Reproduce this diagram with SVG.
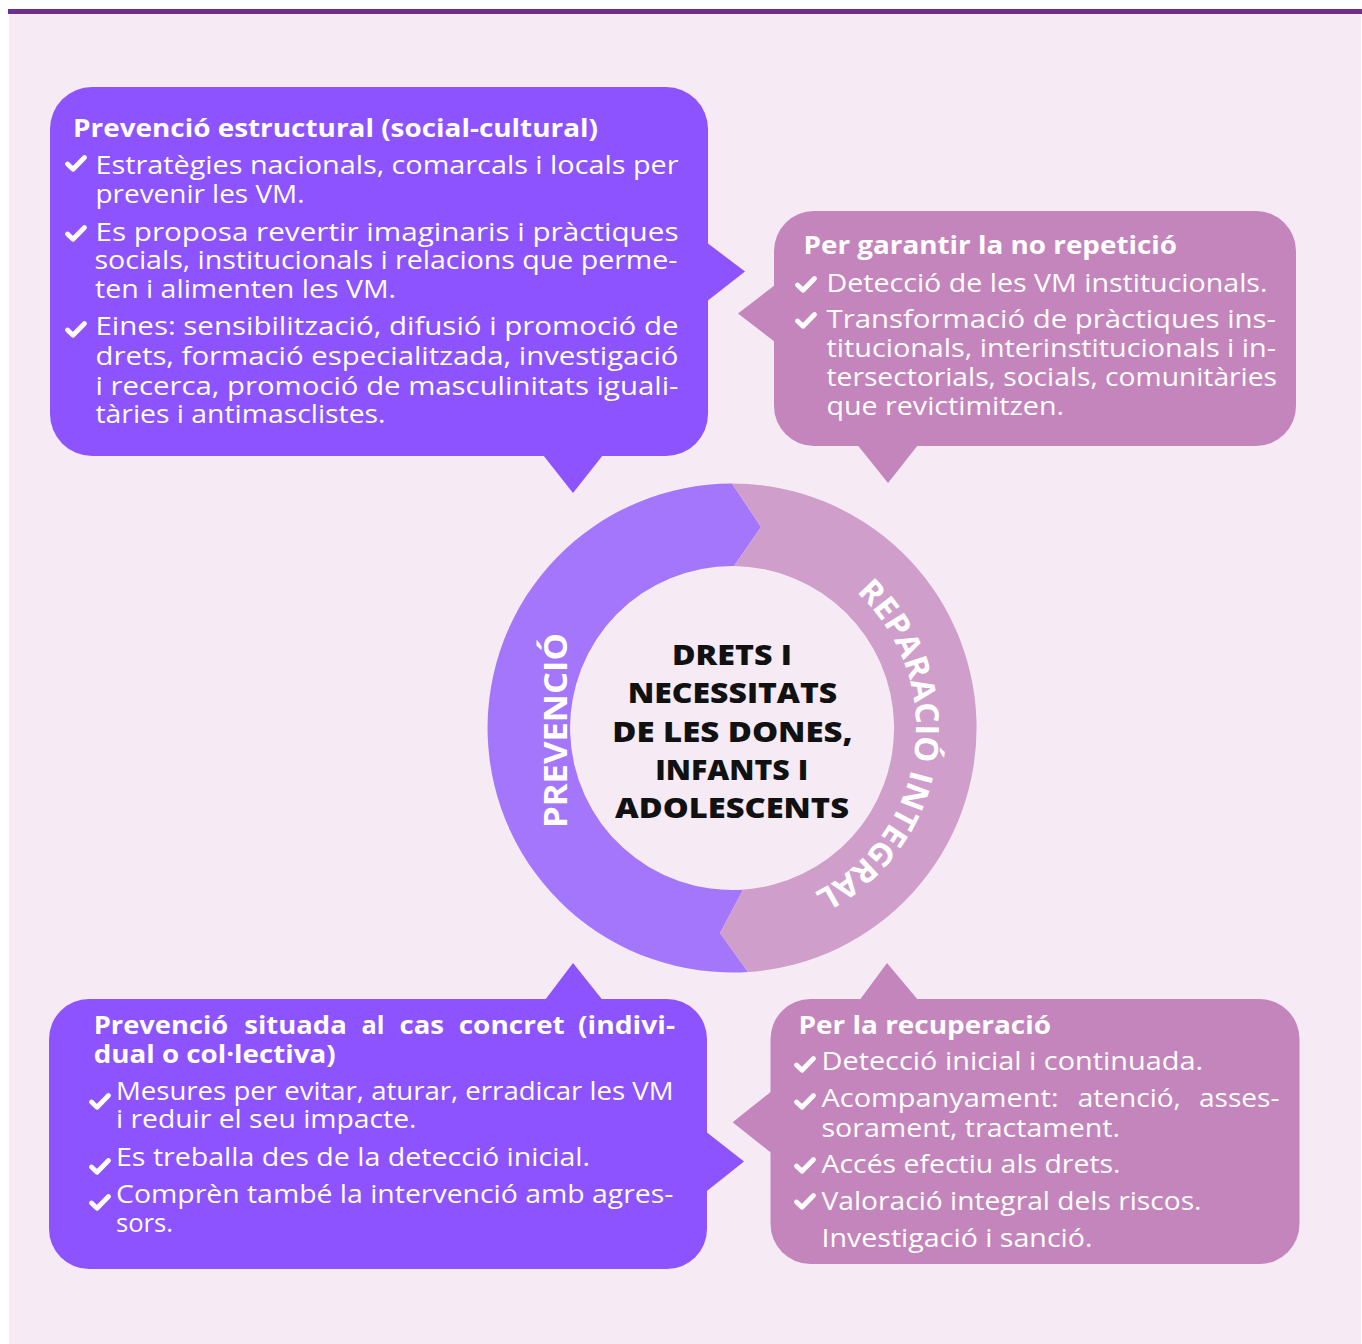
<svg xmlns="http://www.w3.org/2000/svg" xmlns:xlink="http://www.w3.org/1999/xlink" width="1362" height="1344" viewBox="0 0 1362 1344">
<style>
.tx{font-family:"Open Sans","Noto Sans","Liberation Sans",sans-serif;fill:#ffffff;font-size:25px;}
.bd{font-weight:700;}
.ct{font-family:"Open Sans","Noto Sans","Liberation Sans",sans-serif;font-weight:800;font-size:28px;fill:#111111;text-anchor:middle;}
.rt{font-family:"Open Sans","Noto Sans","Liberation Sans",sans-serif;font-weight:700;font-size:32px;fill:#ffffff;}
.vio{fill:#8c53fe;}
.mau{fill:#c485bd;}
</style>
<defs>
<path id="chk" d="M2.5,9 L8,14.2 L19.5,2.5" fill="none" stroke="#ffffff" stroke-width="4.8" stroke-linecap="round" stroke-linejoin="round"/>
<path id="arc" d="M856.3,592.3 A184,184 0 0 1 814.1,892.7"/>
</defs>
<g id="background">
<rect x="0" y="0" width="1362" height="1344" fill="#ffffff"/>
<rect x="9" y="9" width="1352" height="1335" fill="#f6ebf5"/>
<rect x="8" y="9" width="1354" height="5" fill="#702f8b"/>
</g>
<g id="connectors"></g>
<g id="node-prevencio-estructural">
<rect class="vio" x="50" y="87" width="658" height="369" rx="42" ry="42"/>
<polygon class="vio" points="706,242 745,271.5 706,302"/>
<polygon class="vio" points="543,455 573,493 603,455"/>
<text class="tx bd" x="73" y="137" textLength="525" lengthAdjust="spacingAndGlyphs">Prevenció estructural (social-cultural)</text>
<use href="#chk" x="65" y="155"/>
<use href="#chk" x="65" y="225"/>
<use href="#chk" x="65" y="321"/>
<text class="tx" x="95.5" y="174" textLength="583" lengthAdjust="spacingAndGlyphs">Estratègies nacionals, comarcals i locals per</text>
<text class="tx" x="95.5" y="203" textLength="209" lengthAdjust="spacingAndGlyphs">prevenir les VM.</text>
<text class="tx" x="95.5" y="241" textLength="583" lengthAdjust="spacingAndGlyphs">Es proposa revertir imaginaris i pràctiques</text>
<text class="tx" x="94.5" y="269" textLength="583" lengthAdjust="spacingAndGlyphs">socials, institucionals i relacions que perme-</text>
<text class="tx" x="95" y="298" textLength="301" lengthAdjust="spacingAndGlyphs">ten i alimenten les VM.</text>
<text class="tx" x="95.5" y="335" textLength="583" lengthAdjust="spacingAndGlyphs">Eines: sensibilització, difusió i promoció de</text>
<text class="tx" x="95.5" y="365" textLength="583" lengthAdjust="spacingAndGlyphs">drets, formació especialitzada, investigació</text>
<text class="tx" x="95.5" y="395" textLength="583" lengthAdjust="spacingAndGlyphs">i recerca, promoció de masculinitats iguali-</text>
<text class="tx" x="95.5" y="423" textLength="290" lengthAdjust="spacingAndGlyphs">tàries i antimasclistes.</text>
</g>
<g id="node-garantir">
<rect class="mau" x="774" y="211" width="522" height="235" rx="40" ry="40"/>
<polygon class="mau" points="775,285 738,313.5 775,342"/>
<polygon class="mau" points="857.5,445 888,483 918,445"/>
<text class="tx bd" x="803.5" y="254" textLength="373.5" lengthAdjust="spacingAndGlyphs">Per garantir la no repetició</text>
<use href="#chk" x="795" y="276"/>
<use href="#chk" x="795" y="312"/>
<text class="tx" x="826.5" y="291.5" textLength="441" lengthAdjust="spacingAndGlyphs">Detecció de les VM institucionals.</text>
<text class="tx" x="826.5" y="328" textLength="449.5" lengthAdjust="spacingAndGlyphs">Transformació de pràctiques ins-</text>
<text class="tx" x="826.5" y="356.5" textLength="449.5" lengthAdjust="spacingAndGlyphs">titucionals, interinstitucionals i in-</text>
<text class="tx" x="826.5" y="385.5" textLength="450.5" lengthAdjust="spacingAndGlyphs">tersectorials, socials, comunitàries</text>
<text class="tx" x="826.5" y="415" textLength="237.5" lengthAdjust="spacingAndGlyphs">que revictimitzen.</text>
</g>
<g id="node-cicle">
<path fill="#a376fc" d="M732,483.5 A244.5,244.5 0 1 0 748,971.98 L720,933 L743,889.63 A162,162 0 1 1 734,566.01 L761,527 Z"/>
<path fill="#cf9ecb" d="M732,483.5 L761,527 L734,566.01 A162,162 0 0 1 743,889.63 L720,933 L748,971.98 A244.5,244.5 0 0 0 732,483.5 Z"/>
<text class="rt" transform="translate(567,730.5) rotate(-90)" x="0" y="0" text-anchor="middle" textLength="195" lengthAdjust="spacingAndGlyphs">PREVENCIÓ</text>
<text class="rt"><textPath href="#arc" startOffset="0" textLength="356" lengthAdjust="spacingAndGlyphs">REPARACIÓ INTEGRAL</textPath></text>
</g>
<g id="node-centre">
<text class="ct" x="732" y="665" textLength="120" lengthAdjust="spacingAndGlyphs">DRETS I</text>
<text class="ct" x="732.5" y="703" textLength="209.5" lengthAdjust="spacingAndGlyphs">NECESSITATS</text>
<text class="ct" x="732.5" y="742" textLength="240.5" lengthAdjust="spacingAndGlyphs">DE LES DONES,</text>
<text class="ct" x="731.7" y="780" textLength="153" lengthAdjust="spacingAndGlyphs">INFANTS I</text>
<text class="ct" x="732" y="818" textLength="234" lengthAdjust="spacingAndGlyphs">ADOLESCENTS</text>
</g>
<g id="node-situada">
<rect class="vio" x="49" y="999" width="658" height="270" rx="40" ry="40"/>
<polygon class="vio" points="545,1000 573,963 602.5,1000"/>
<polygon class="vio" points="706,1131.7 744,1161.5 706,1191.7"/>
<text class="tx bd" x="93.7" y="1034" textLength="134.5" lengthAdjust="spacingAndGlyphs">Prevenció</text>
<text class="tx bd" x="244.3" y="1034" textLength="102.4" lengthAdjust="spacingAndGlyphs">situada</text>
<text class="tx bd" x="361.4" y="1034" textLength="23" lengthAdjust="spacingAndGlyphs">al</text>
<text class="tx bd" x="399.5" y="1034" textLength="44.5" lengthAdjust="spacingAndGlyphs">cas</text>
<text class="tx bd" x="458.7" y="1034" textLength="106" lengthAdjust="spacingAndGlyphs">concret</text>
<text class="tx bd" x="578" y="1034" textLength="97" lengthAdjust="spacingAndGlyphs">(indivi-</text>
<text class="tx bd" x="93.7" y="1063" textLength="242" lengthAdjust="spacingAndGlyphs">dual o col·lectiva)</text>
<use href="#chk" x="89" y="1093"/>
<use href="#chk" x="89" y="1158"/>
<use href="#chk" x="89" y="1194"/>
<text class="tx" x="116" y="1100" textLength="557.5" lengthAdjust="spacingAndGlyphs">Mesures per evitar, aturar, erradicar les VM</text>
<text class="tx" x="116" y="1128" textLength="300.5" lengthAdjust="spacingAndGlyphs">i reduir el seu impacte.</text>
<text class="tx" x="116" y="1166" textLength="474" lengthAdjust="spacingAndGlyphs">Es treballa des de la detecció inicial.</text>
<text class="tx" x="116" y="1203" textLength="557.5" lengthAdjust="spacingAndGlyphs">Comprèn també la intervenció amb agres-</text>
<text class="tx" x="116" y="1231.5" textLength="57" lengthAdjust="spacingAndGlyphs">sors.</text>
</g>
<g id="node-recuperacio">
<rect class="mau" x="770.5" y="999" width="529" height="265" rx="40" ry="40"/>
<polygon class="mau" points="859.7,1000 887,963 918,1000"/>
<polygon class="mau" points="771,1091.7 732.6,1122.3 771,1152.7"/>
<text class="tx bd" x="798.5" y="1034" textLength="252.5" lengthAdjust="spacingAndGlyphs">Per la recuperació</text>
<use href="#chk" x="794" y="1056"/>
<use href="#chk" x="794" y="1093"/>
<use href="#chk" x="794" y="1157"/>
<use href="#chk" x="794" y="1193"/>
<text class="tx" x="821.5" y="1070" textLength="381.5" lengthAdjust="spacingAndGlyphs">Detecció inicial i continuada.</text>
<text class="tx" x="821.5" y="1106.5" textLength="237" lengthAdjust="spacingAndGlyphs">Acompanyament:</text>
<text class="tx" x="1077.8" y="1106.5" textLength="103" lengthAdjust="spacingAndGlyphs">atenció,</text>
<text class="tx" x="1199" y="1106.5" textLength="80.5" lengthAdjust="spacingAndGlyphs">asses-</text>
<text class="tx" x="821.5" y="1136.5" textLength="298.5" lengthAdjust="spacingAndGlyphs">sorament, tractament.</text>
<text class="tx" x="821.5" y="1173" textLength="299" lengthAdjust="spacingAndGlyphs">Accés efectiu als drets.</text>
<text class="tx" x="821.5" y="1210" textLength="380" lengthAdjust="spacingAndGlyphs">Valoració integral dels riscos.</text>
<text class="tx" x="821.5" y="1246.5" textLength="271" lengthAdjust="spacingAndGlyphs">Investigació i sanció.</text>
</g>
</svg>
